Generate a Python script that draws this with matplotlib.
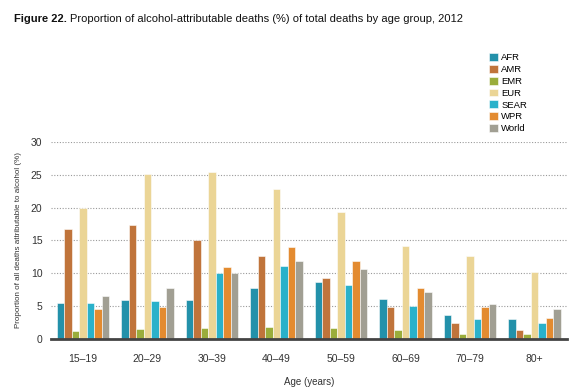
import numpy as np
import matplotlib
matplotlib.use("Agg")
from matplotlib import pyplot as plt

FONT = ["Liberation Sans", "DejaVu Sans"]
plt.rcParams["font.family"] = FONT

age_groups = ["15–19", "20–29", "30–39", "40–49", "50–59", "60–69", "70–79", "80+"]
regions = ["AFR", "AMR", "EMR", "EUR", "SEAR", "WPR", "World"]

afr = [5.5, 5.9, 6.0, 7.8, 8.7, 6.1, 3.6, 3.0]
amr = [16.8, 17.4, 15.1, 12.6, 9.3, 4.9, 2.4, 1.3]
emr = [1.2, 1.5, 1.7, 1.9, 1.7, 1.3, 0.8, 0.7]
eur = [19.9, 25.1, 25.4, 22.8, 19.3, 14.1, 12.7, 10.2]
sear = [5.5, 5.8, 10.0, 11.1, 8.3, 5.0, 3.0, 2.4]
wpr = [4.6, 4.9, 11.0, 14.0, 11.9, 7.8, 4.8, 3.2]
world = [6.6, 7.7, 10.0, 11.9, 10.7, 7.1, 5.4, 4.6]

colors = ["#2391aa", "#c0743b", "#9aad3b", "#ebd596", "#2ab1ca", "#e38b30", "#a19f93"]

series = [afr, amr, emr, eur, sear, wpr, world]

fig = plt.figure(figsize=(5.79, 3.89), dpi=100)
ax = fig.add_axes([0.0876, 0.1285, 0.8914, 0.5065])

x = np.arange(len(age_groups))
width = 0.116
for i, (vals, name, c) in enumerate(zip(series, regions, colors)):
    ax.bar(x + (i - 3) * width, vals, width, color=c, label=name,
           edgecolor=(1, 1, 1, 0.55), linewidth=0.7, zorder=3)

ax.set_xlim(-0.5, 7.5)
ax.set_ylim(0, 30)
ax.set_yticks(range(0, 31, 5))
ax.set_xticks(x)
ax.set_xticklabels(age_groups)
ax.grid(axis="y", linestyle=(0, (1, 1.5)), color="#9a9a9a", linewidth=0.8, zorder=0)
for s in ["top", "right", "left"]:
    ax.spines[s].set_visible(False)
ax.spines["bottom"].set_color("#444444")
ax.spines["bottom"].set_linewidth(2)
ax.spines["bottom"].set_zorder(4)
ax.tick_params(axis="both", length=0, labelsize=7.5, colors="#333333")
ax.tick_params(axis="x", pad=11)
ax.tick_params(axis="y", pad=6)
ax.set_ylabel("Proportion of all deaths attributable to alcohol (%)", fontsize=5.8,
              color="#333333", labelpad=6)
ax.set_xlabel("Age (years)", fontsize=7, color="#333333", labelpad=9)

ax.legend(loc="upper left", bbox_to_anchor=(0.842, 1.47), frameon=False,
          fontsize=6.8, handlelength=0.9, handleheight=0.9, handletextpad=0.4,
          labelspacing=0.28, borderaxespad=0)

# title: bold prefix + regular text, scaled to the reference width
size = 10
t1 = fig.text(0.024, 0.952, "Figure 22.", fontsize=size, fontweight="bold",
              ha="left", va="center", color="#111111")
fig.canvas.draw()
bb = t1.get_window_extent()
t2 = fig.text(bb.x1 / fig.bbox.width + 0.005, 0.952,
              "Proportion of alcohol-attributable deaths (%) of total deaths by age group, 2012",
              fontsize=size, ha="left", va="center", color="#111111")
fig.canvas.draw()
total = t2.get_window_extent().x1 - bb.x0
scale = 449 / total
size = size * scale
t1.set_fontsize(size)
fig.canvas.draw()
bb = t1.get_window_extent()
t2.set_fontsize(size)
t2.set_x(bb.x1 / fig.bbox.width + 0.005)

fig.savefig("out.png", dpi=100)
